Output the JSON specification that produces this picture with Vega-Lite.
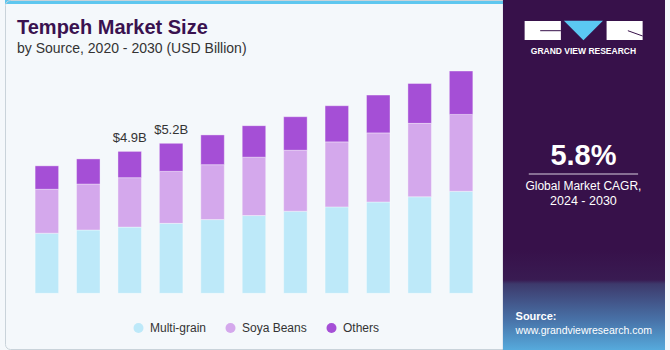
{
  "$schema": "https://vega.github.io/schema/vega-lite/v6.json",
  "width": 670,
  "height": 350,
  "autosize": "none",
  "padding": 0,
  "background": "#F4F8FB",
  "config": {"view": {"stroke": null}, "font": "Liberation Sans"},
  "title": {
    "text": "Tempeh Market Size",
    "subtitle": "by Source, 2020 - 2030 (USD Billion)",
    "anchor": "start",
    "frame": "group",
    "offset": -56.5,
    "dx": 17,
    "font": "Liberation Sans",
    "fontSize": 20,
    "fontWeight": "bold",
    "color": "#3A1250",
    "subtitleFont": "Liberation Sans",
    "subtitleFontSize": 14,
    "subtitleColor": "#333333",
    "subtitlePadding": 4
  },
  "layer": [
    {
      "data": {"values": [{}]},
      "mark": {"type": "rect", "fill": "#5EC7EF"},
      "encoding": {
        "x": {"datum": 2018.9893, "type": "quantitative", "axis": null},
        "x2": {"datum": 2031.0107},
        "y": {"datum": 10.1488, "type": "quantitative", "axis": null},
        "y2": {"datum": 10.0104}
      }
    },
    {
      "data": {"values": [{}]},
      "mark": {"type": "rect", "fill": null, "fillOpacity": 0, "stroke": "#C9D3DA", "strokeWidth": 1, "cornerRadius": 5},
      "encoding": {
        "x": {"datum": 2019.0012, "type": "quantitative", "axis": null},
        "x2": {"datum": 2034.9108},
        "y": {"datum": 10.1315, "type": "quantitative", "axis": null},
        "y2": {"datum": -1.9446}
      }
    },
    {
      "data": {"values": [{}]},
      "mark": {"type": "rect", "fill": "#37114A"},
      "encoding": {
        "x": {"datum": 2031.0107, "type": "quantitative", "axis": null},
        "x2": {"datum": 2034.9227},
        "y": {"datum": 10.1488, "type": "quantitative", "axis": null},
        "y2": {"datum": -1.9619}
      }
    },
    {
      "data": {"values": [{}]},
      "mark": {
        "type": "rect",
        "fill": {
          "gradient": "linear", "x1": 0, "y1": 0, "x2": 0, "y2": 1,
          "stops": [
            {"offset": 0, "color": "#37114A"},
            {"offset": 0.3, "color": "#391B52"},
            {"offset": 0.34, "color": "#3D3A6C"},
            {"offset": 0.7, "color": "#4872A8"},
            {"offset": 1, "color": "#56AADC"}
          ]
        }
      },
      "encoding": {
        "x": {"datum": 2031.0107, "type": "quantitative", "axis": null},
        "x2": {"datum": 2034.9227},
        "y": {"datum": 1.4983, "type": "quantitative", "axis": null},
        "y2": {"datum": -1.9619}
      }
    },
    {
      "data": {"values": [{}]},
      "mark": {"type": "rect", "fill": "#FFFFFF"},
      "encoding": {
        "x": {"datum": 2031.5339, "type": "quantitative", "axis": null},
        "x2": {"datum": 2032.4090},
        "y": {"datum": 9.4221, "type": "quantitative", "axis": null},
        "y2": {"datum": 8.7682}
      }
    },
    {
      "data": {"values": [{}]},
      "mark": {"type": "rect", "fill": "#FFFFFF"},
      "encoding": {
        "x": {"datum": 2033.5125, "type": "quantitative", "axis": null},
        "x2": {"datum": 2034.3829},
        "y": {"datum": 9.4221, "type": "quantitative", "axis": null},
        "y2": {"datum": 8.7682}
      }
    },
    {
      "data": {"values": [{}]},
      "mark": {"type": "rule", "stroke": "#37114A", "strokeWidth": 1},
      "encoding": {
        "x": {"datum": 2031.9096, "type": "quantitative", "axis": null},
        "x2": {"datum": 2032.4090},
        "y": {"datum": 9.0865, "type": "quantitative", "axis": null}
      }
    },
    {
      "data": {"values": [{}]},
      "mark": {"type": "rule", "stroke": "#37114A", "strokeWidth": 1},
      "encoding": {
        "x": {"datum": 2034.0262, "type": "quantitative", "axis": null},
        "x2": {"datum": 2034.3829},
        "y": {"datum": 9.0865, "type": "quantitative", "axis": null},
        "y2": {"datum": 8.9031}
      }
    },
    {
      "data": {"values": [{}]},
      "mark": {"type": "point", "shape": "M-1,-0.5L1,-0.5L0,0.5Z", "size": 1521, "filled": true, "fill": "#5BC8F2", "opacity": 1, "strokeWidth": 0},
      "encoding": {
        "x": {"datum": 2032.9536, "type": "quantitative", "axis": null},
        "y": {"datum": 9.0934, "type": "quantitative", "axis": null}
      }
    },
    {
      "data": {"values": [{}]},
      "mark": {"type": "text", "text": "GRAND VIEW RESEARCH", "align": "center", "baseline": "alphabetic", "fontSize": 8.5, "fontWeight": "bold", "letterSpacing": 0.8, "color": "#FFFFFF"},
      "encoding": {
        "x": {"datum": 2032.9536, "type": "quantitative", "axis": null},
        "y": {"datum": 8.2803, "type": "quantitative", "axis": null}
      }
    },
    {
      "data": {"values": [{}]},
      "mark": {"type": "text", "text": "5.8%", "align": "center", "baseline": "alphabetic", "fontSize": 29, "fontWeight": "bold", "color": "#FFFFFF"},
      "encoding": {
        "x": {"datum": 2032.9536, "type": "quantitative", "axis": null},
        "y": {"datum": 4.4567, "type": "quantitative", "axis": null}
      }
    },
    {
      "data": {"values": [{}]},
      "mark": {"type": "rule", "stroke": "#D9D0DE", "strokeWidth": 1},
      "encoding": {
        "x": {"datum": 2031.6338, "type": "quantitative", "axis": null},
        "x2": {"datum": 2034.2735},
        "y": {"datum": 4.1280, "type": "quantitative", "axis": null}
      }
    },
    {
      "data": {"values": [{}]},
      "mark": {"type": "text", "text": "Global Market CAGR,", "align": "center", "baseline": "alphabetic", "fontSize": 12, "color": "#FFFFFF"},
      "encoding": {
        "x": {"datum": 2032.9536, "type": "quantitative", "axis": null},
        "y": {"datum": 3.5744, "type": "quantitative", "axis": null}
      }
    },
    {
      "data": {"values": [{}]},
      "mark": {"type": "text", "text": "2024 - 2030", "align": "center", "baseline": "alphabetic", "fontSize": 12.5, "color": "#FFFFFF"},
      "encoding": {
        "x": {"datum": 2032.9536, "type": "quantitative", "axis": null},
        "y": {"datum": 3.0554, "type": "quantitative", "axis": null}
      }
    },
    {
      "data": {"values": [{}]},
      "mark": {"type": "text", "text": "Source:", "align": "left", "baseline": "alphabetic", "fontSize": 11, "fontWeight": "bold", "color": "#FFFFFF"},
      "encoding": {
        "x": {"datum": 2031.3151, "type": "quantitative", "axis": null},
        "y": {"datum": -0.9239, "type": "quantitative", "axis": null}
      }
    },
    {
      "data": {"values": [{}]},
      "mark": {"type": "text", "text": "www.grandviewresearch.com", "align": "left", "baseline": "alphabetic", "fontSize": 10.5, "color": "#FFFFFF"},
      "encoding": {
        "x": {"datum": 2031.3151, "type": "quantitative", "axis": null},
        "y": {"datum": -1.3910, "type": "quantitative", "axis": null}
      }
    },
    {
      "data": {
        "values": [
          {"year": 2020, "source": "Multi-grain", "value": 2.08},
          {"year": 2020, "source": "Soya Beans", "value": 1.52},
          {"year": 2020, "source": "Others", "value": 0.81},
          {"year": 2021, "source": "Multi-grain", "value": 2.19},
          {"year": 2021, "source": "Soya Beans", "value": 1.59},
          {"year": 2021, "source": "Others", "value": 0.87},
          {"year": 2022, "source": "Multi-grain", "value": 2.29},
          {"year": 2022, "source": "Soya Beans", "value": 1.71},
          {"year": 2022, "source": "Others", "value": 0.91},
          {"year": 2023, "source": "Multi-grain", "value": 2.42},
          {"year": 2023, "source": "Soya Beans", "value": 1.80},
          {"year": 2023, "source": "Others", "value": 0.97},
          {"year": 2024, "source": "Multi-grain", "value": 2.55},
          {"year": 2024, "source": "Soya Beans", "value": 1.90},
          {"year": 2024, "source": "Others", "value": 1.03},
          {"year": 2025, "source": "Multi-grain", "value": 2.69},
          {"year": 2025, "source": "Soya Beans", "value": 2.02},
          {"year": 2025, "source": "Others", "value": 1.09},
          {"year": 2026, "source": "Multi-grain", "value": 2.84},
          {"year": 2026, "source": "Soya Beans", "value": 2.11},
          {"year": 2026, "source": "Others", "value": 1.16},
          {"year": 2027, "source": "Multi-grain", "value": 2.99},
          {"year": 2027, "source": "Soya Beans", "value": 2.25},
          {"year": 2027, "source": "Others", "value": 1.25},
          {"year": 2028, "source": "Multi-grain", "value": 3.16},
          {"year": 2028, "source": "Soya Beans", "value": 2.39},
          {"year": 2028, "source": "Others", "value": 1.31},
          {"year": 2029, "source": "Multi-grain", "value": 3.34},
          {"year": 2029, "source": "Soya Beans", "value": 2.54},
          {"year": 2029, "source": "Others", "value": 1.38},
          {"year": 2030, "source": "Multi-grain", "value": 3.53},
          {"year": 2030, "source": "Soya Beans", "value": 2.66},
          {"year": 2030, "source": "Others", "value": 1.50}
        ]
      },
      "transform": [
        {"calculate": "indexof(['Multi-grain', 'Soya Beans', 'Others'], datum.source)", "as": "stackIndex"}
      ],
      "mark": {"type": "bar", "width": 23.5, "stroke": "#FFFFFF", "strokeWidth": 0.8, "strokeOpacity": 0.45},
      "encoding": {
        "x": {
          "field": "year", "type": "quantitative",
          "scale": {"domain": [2018.9893, 2034.9227], "nice": false, "zero": false},
          "axis": {
            "values": [2020, 2021, 2022, 2023, 2024, 2025, 2026, 2027, 2028, 2029, 2030],
            "format": "d", "title": null, "domain": false, "ticks": false, "grid": false,
            "labelFontSize": 12.5, "labelColor": "#333333", "labelFont": "Liberation Sans",
            "offset": -52, "labelPadding": 0, "labelOverlap": false, "labelFlush": false
          }
        },
        "y": {
          "field": "value", "type": "quantitative", "stack": "zero",
          "scale": {"domain": [-1.9619, 10.1488], "nice": false, "zero": false},
          "axis": null
        },
        "order": {"field": "stackIndex", "type": "quantitative", "sort": "ascending"},
        "color": {
          "field": "source", "type": "nominal",
          "sort": ["Multi-grain", "Soya Beans", "Others"],
          "scale": {"domain": ["Multi-grain", "Soya Beans", "Others"], "range": ["#BDE9F9", "#D4A8EC", "#A54FD6"]},
          "legend": {
            "title": null, "orient": "none", "legendX": 132.5, "legendY": 322,
            "direction": "horizontal", "symbolType": "circle", "symbolSize": 100,
            "symbolStrokeWidth": 0, "labelFontSize": 12, "labelColor": "#333333",
            "labelFont": "Liberation Sans", "labelOffset": 5.5, "columnPadding": 18, "padding": 0
          }
        }
      }
    },
    {
      "data": {
        "values": [
          {"year": 2022, "total": 4.9, "label": "$4.9B"},
          {"year": 2023, "total": 5.2, "label": "$5.2B"}
        ]
      },
      "mark": {"type": "text", "align": "center", "baseline": "alphabetic", "dy": -9.5, "fontSize": 13, "color": "#333333"},
      "encoding": {
        "x": {"field": "year", "type": "quantitative", "axis": null},
        "y": {"field": "total", "type": "quantitative", "axis": null},
        "text": {"field": "label"}
      }
    }
  ]
}
